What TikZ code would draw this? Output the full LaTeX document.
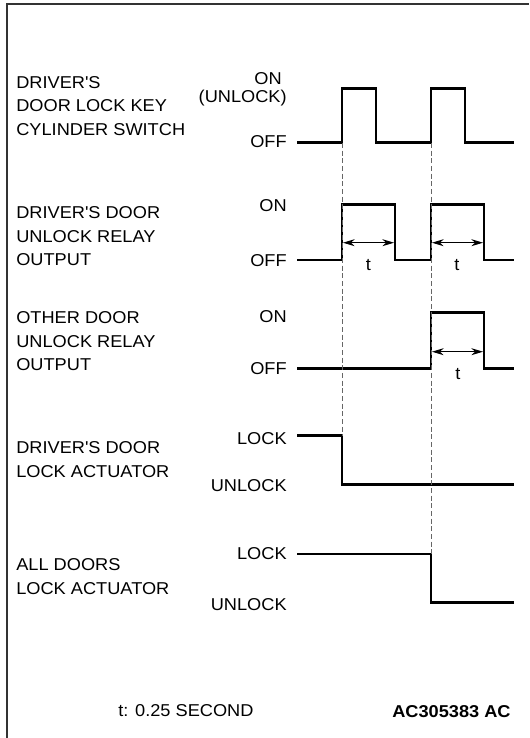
\documentclass[tikz,border=0pt]{standalone}
\usepackage{fontspec}
\setmainfont{Liberation Sans}[FakeStretch=1.06]
\usetikzlibrary{arrows.meta}

\begin{document}
\begin{tikzpicture}[x=0.6pt,y=-0.6pt]

% definitions
\tikzstyle{signame} = [anchor=base west, inner sep=0pt, align=left, font=\fontsize{10.3}{14}\selectfont]

\tikzstyle{level} = [anchor=base east, inner sep=0pt, font=\fontsize{10.3}{14}\selectfont]

\tikzstyle{period} = [anchor=base, inner sep=0pt, font=\fontsize{10.3}{14}\selectfont]

\tikzstyle{signal} = [line width=1.5pt, line join=miter]

\tikzstyle{guide} = [black!60, line width=0.6pt, dash pattern=on 3pt off 1.6pt]

\tikzstyle{arrow} = [{Stealth[length=7pt,width=4.2pt]}-{Stealth[length=7pt,width=4.2pt]}, line width=0.6pt]

\tikzstyle{frame} = [line width=1.2pt, black!80]

\useasboundingbox (0,0) rectangle (529,738);
\draw [frame] (7,738) -- (7,4) -- (529,4);

% the graph (base = last line)
\node (keysw) [signame] at (16,135) {DRIVER\textquotesingle S\\DOOR LOCK KEY\\CYLINDER SWITCH};

\node (drvrelay) [signame] at (16,265.6) {DRIVER\textquotesingle S DOOR\\UNLOCK RELAY\\OUTPUT};

\node (otherrelay) [signame] at (16,370.6) {OTHER DOOR\\UNLOCK RELAY\\OUTPUT};

\node (drvact) [signame] at (16,477.3) {DRIVER\textquotesingle S DOOR\\LOCK ACTUATOR};

\node (allact) [signame] at (16,594.3) {ALL DOORS\\LOCK ACTUATOR};

\node (on1) [level] at (282,84) {ON};
\node (unlock1) [level] at (287,102) {(UNLOCK)};
\node (off1) [level] at (287,147.3) {OFF};

\node (on2) [level] at (287,211) {ON};
\node (off2) [level] at (287,266) {OFF};

\node (on3) [level] at (287,322) {ON};
\node (off3) [level] at (287,374) {OFF};

\node (lock4) [level] at (287,444) {LOCK};
\node (unlock4) [level] at (287,491) {UNLOCK};

\node (lock5) [level] at (287,559) {LOCK};
\node (unlock5) [level] at (287,610) {UNLOCK};

% waveforms
\draw [signal] (297,142.7) -- (342,142.7) -- (342,88.3) -- (376,88.3) -- (376,142.7) -- (431,142.7) -- (431,88.3) -- (465,88.3) -- (465,142.7) -- (514,142.7);

\draw [signal] (297,260) -- (342,260) -- (342,204.7) -- (395,204.7) -- (395,260) -- (431,260) -- (431,204.7) -- (484,204.7) -- (484,260) -- (514,260);

\draw [signal] (297,368.7) -- (431,368.7) -- (431,312.7) -- (484,312.7) -- (484,368.7) -- (514,368.7);

\draw [signal] (297,435.7) -- (342,435.7) -- (342,484.3) -- (514,484.3);

\draw [signal] (297,554) -- (431,554) -- (431,602.3) -- (514,602.3);

\draw [guide] (342,143) -- (342,435.7);
\draw [guide] (431,143) -- (431,554);

% pulse width t
\coordinate (t1a) at (343,242.7);
\coordinate (t1b) at (394,242.7);
\coordinate (t2a) at (432,242.7);
\coordinate (t2b) at (483,242.7);
\coordinate (t3a) at (432,351.7);
\coordinate (t3b) at (483,351.7);

\draw [arrow] (t1a) -- (t1b);
\draw [arrow] (t2a) -- (t2b);
\draw [arrow] (t3a) -- (t3b);

\node (t1) [period] at (368.5,270) {t};
\node (t2) [period] at (457,270) {t};
\node (t3) [period] at (458,379) {t};

\node (note) [signame] at (118,716.7) {t: 0.25 SECOND};
\node (code) [level, font=\fontsize{10.3}{14}\selectfont\bfseries] at (511,717) {AC305383 AC};

\end{tikzpicture}
\end{document}
